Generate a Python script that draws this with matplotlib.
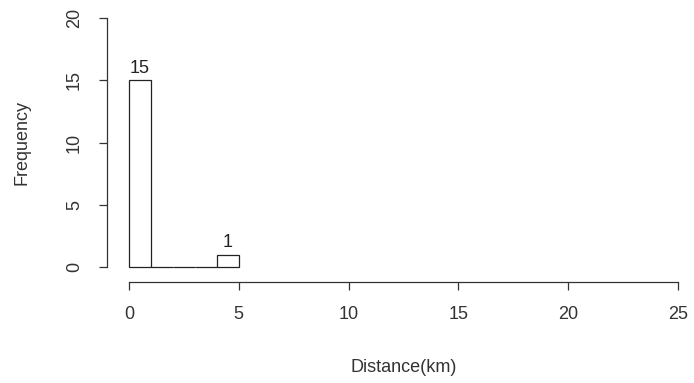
import matplotlib
matplotlib.use("Agg")
import matplotlib.pyplot as plt

bin_edges = [0, 1, 2, 3, 4, 5]
counts = [15, 0, 0, 0, 1]
x_ticks = [0, 5, 10, 15, 20, 25]
y_ticks = [0, 5, 10, 15, 20]
x_label = "Distance(km)"
y_label = "Frequency"

plt.rcParams['font.family'] = ['Liberation Sans', 'DejaVu Sans']
W, H = 694, 383
fig = plt.figure(figsize=(W/100, H/100), dpi=100)
ax = fig.add_axes([129/W, (H-267)/H, 549/W, 249/H])
ax.set_xlim(0, 25)
ax.set_ylim(0, 20)

px = 72/100  # points per pixel

lefts = bin_edges[:-1]
widths = [bin_edges[i+1]-bin_edges[i] for i in range(len(counts))]
ax.bar(lefts, counts, width=widths, align='edge', facecolor='white',
       edgecolor='#222222', linewidth=0.9, clip_on=False)
for l, w, c in zip(lefts, widths, counts):
    if c > 0:
        ax.text(l + w/2, c + 0.3, str(c), ha='center', va='bottom',
                fontsize=13, color='#222222')

for s in ['top', 'right']:
    ax.spines[s].set_visible(False)
ax.spines['bottom'].set_position(('outward', 15*px))
ax.spines['left'].set_position(('outward', 22*px))
ax.spines['bottom'].set_bounds(0, 25)
ax.spines['left'].set_bounds(0, 20)
for s in ['bottom', 'left']:
    ax.spines[s].set_color('#333333')
    ax.spines[s].set_linewidth(0.9)

ax.set_xticks(x_ticks)
ax.set_yticks(y_ticks)
ax.tick_params(axis='both', length=8*px, width=0.9, color='#333333',
               labelsize=13, labelcolor='#333333', pad=16*px)
for t in ax.get_yticklabels():
    t.set_rotation(90)
    t.set_va('center')
ax.set_xlabel(x_label, fontsize=13, color='#333333', labelpad=36*px)
ax.set_ylabel(y_label, fontsize=13, color='#333333', labelpad=35*px)

fig.savefig("out.png", dpi=100)
